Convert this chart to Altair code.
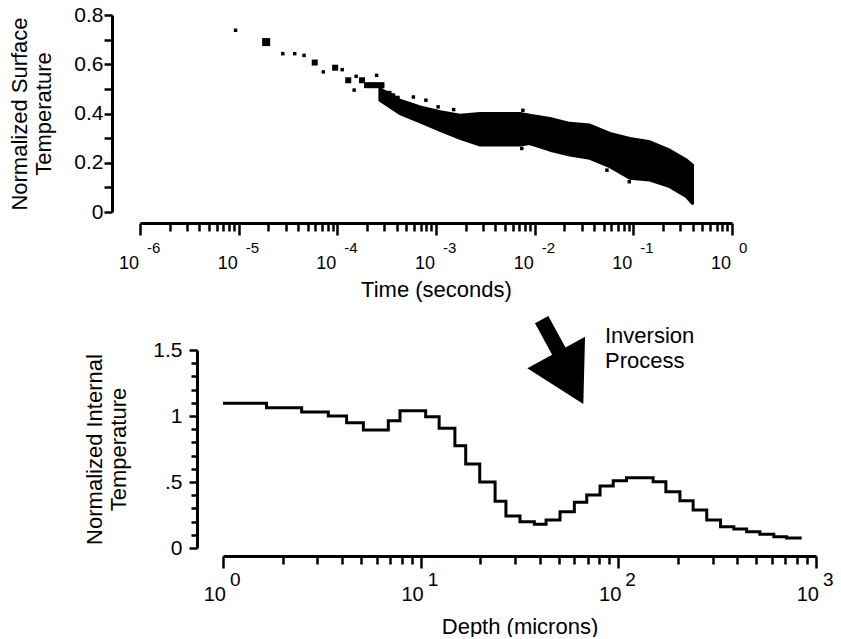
import altair as alt
import pandas as pd

FONT = "Liberation Sans"

# ---------------- top panel: surface temperature vs time ----------------
# isolated readings (time in seconds, normalized surface temperature)
small_t = [9.3e-6, 2.8e-5, 3.7e-5, 4.6e-5, 7.2e-5, 1.12e-4, 1.48e-4, 1.55e-4, 2.5e-4,
           5.9e-4, 7.9e-4, 1.05e-3, 1.51e-3, 7.4e-3, 7.6e-3, 0.054, 0.091]
small_v = [0.738, 0.643, 0.643, 0.636, 0.569, 0.578, 0.495, 0.551, 0.555,
           0.467, 0.454, 0.427, 0.416, 0.258, 0.413, 0.170, 0.123]
medium_t = [5.9e-5, 9.5e-5, 1.29e-4, 1.78e-4, 2.0e-4, 2.24e-4, 2.5e-4, 2.8e-4, 3.3e-4, 3.6e-4, 4.0e-4]
medium_v = [0.607, 0.586, 0.535, 0.535, 0.515, 0.515, 0.515, 0.515, 0.480, 0.470, 0.460]
big_t = [1.9e-5]
big_v = [0.690]
# dense cloud of readings: lower / upper envelope
band_t = [2.7e-4, 4.3e-4, 6.9e-4, 1.1e-3, 1.75e-3, 2.8e-3, 4.4e-3, 7.1e-3, 8.9e-3, 0.0143,
          0.0227, 0.0362, 0.0578, 0.0922, 0.147, 0.234, 0.346, 0.398]
band_hi = [0.501, 0.454, 0.427, 0.407, 0.393, 0.400, 0.400, 0.400, 0.393, 0.380,
           0.360, 0.353, 0.319, 0.299, 0.285, 0.251, 0.211, 0.190]
band_lo = [0.454, 0.400, 0.366, 0.332, 0.299, 0.272, 0.272, 0.272, 0.278, 0.251,
           0.231, 0.218, 0.184, 0.137, 0.130, 0.103, 0.062, 0.035]

top_decades = [-6, -5, -4, -3, -2, -1, 0]
top_y_ticks = [0, 0.1, 0.2, 0.3, 0.4, 0.5, 0.6, 0.7, 0.8]
top_y_label_values = [0, 0.2, 0.4, 0.6, 0.8]
top_y_label_text = ["0", "0.2", "0.4", "0.6", "0.8"]

# ---------------- bottom panel: internal temperature vs depth ----------------
depth_edges = [1.0, 1.66, 2.50, 3.41, 4.22, 5.13, 6.86, 7.86, 10.6, 12.4, 14.9, 16.9, 19.9,
               23.8, 27.0, 31.8, 37.6, 43.1, 50.7, 59.9, 69.2, 80.8, 94.2, 110, 150, 174,
               205, 239, 280, 329, 384, 446, 520, 612, 710, 846]
internal_temp = [1.096, 1.063, 1.030, 1.000, 0.949, 0.894, 0.964, 1.040, 0.995, 0.907,
                 0.775, 0.636, 0.500, 0.354, 0.242, 0.199, 0.180, 0.212, 0.275, 0.346,
                 0.402, 0.470, 0.510, 0.533, 0.502, 0.427, 0.358, 0.288, 0.212, 0.161,
                 0.144, 0.123, 0.104, 0.086, 0.076]
bot_decades = [0, 1, 2, 3]
bot_y_ticks = [round(0.1 * i, 1) for i in range(16)]
bot_y_label_values = [0, 0.5, 1.0, 1.5]
bot_y_label_text = ["0", ".5", "1", "1.5"]

arrow_depth = [48.5]
arrow_val = [1.424]
note_depth = [85.6, 85.6]
note_val = [1.553, 1.364]
note_text = ["Inversion", "Process"]

# ---------------- helpers ----------------
DEC = "abs(log(datum.value)/LN10 - round(log(datum.value)/LN10)) < 0.001"


def label_expr(values, texts):
    expr = "''"
    for v, t in reversed(list(zip(values, texts))):
        expr = f"abs(datum.value - {v}) < 1e-6 ? '{t}' : ({expr})"
    return expr


def log_ticks(decades):
    vals = []
    for e in decades[:-1]:
        for m in range(1, 10):
            vals.append(m * 10.0 ** e)
    vals.append(10.0 ** decades[-1])
    return vals


W1, H1 = 592, 197
W2, H2 = 676, 198
X2_RANGE = [83, 676]

common_axis = dict(grid=False, domainColor="black", tickColor="black", labelColor="black",
                   titleColor="black", domainWidth=3, tickWidth=2.5, labelFont=FONT,
                   titleFont=FONT, titleFontWeight="normal", labelFontWeight="normal")

ax_top_x = alt.Axis(values=log_ticks(top_decades), labels=False, offset=11,
                    tickSize={"condition": {"test": DEC, "value": 12}, "value": 8},
                    title="Time (seconds)", titleFontSize=22, titleY=73,
                    titleBaseline="alphabetic", **common_axis)
ax_top_y = alt.Axis(values=top_y_ticks, labelExpr=label_expr(top_y_label_values, top_y_label_text),
                    offset=28, tickSize=8, labelPadding=1, labelFontSize=21,
                    title=["Normalized Surface", "Temperature"], titleFontSize=22,
                    titleLineHeight=24, titleX=-86, titleBaseline="alphabetic", **common_axis)

x_top = alt.X("t:Q", scale=alt.Scale(type="log", domain=[1e-6, 1]), axis=ax_top_x)


def y_top(field):
    return alt.Y(f"{field}:Q", scale=alt.Scale(domain=[0, 0.8]), axis=ax_top_y)


band_df = pd.DataFrame({"t": band_t, "lo": band_lo, "hi": band_hi})
small_df = pd.DataFrame({"t": small_t, "v": small_v})
medium_df = pd.DataFrame({"t": medium_t, "v": medium_v})
big_df = pd.DataFrame({"t": big_t, "v": big_v})
top_lab_df = pd.DataFrame({"t": [10.0 ** e for e in top_decades],
                           "base": ["10"] * len(top_decades),
                           "exp": [str(e) for e in top_decades]})

band = alt.Chart(band_df).mark_area(color="black", opacity=1, stroke="black", strokeWidth=3,
                                    strokeJoin="round").encode(
    x=x_top, y=y_top("lo"), y2="hi:Q")
small_pts = alt.Chart(small_df).mark_square(color="black", size=12, opacity=1).encode(x=x_top, y=y_top("v"))
medium_pts = alt.Chart(medium_df).mark_square(color="black", size=36, opacity=1).encode(x=x_top, y=y_top("v"))
big_pts = alt.Chart(big_df).mark_square(color="black", size=64, opacity=1).encode(x=x_top, y=y_top("v"))
top_base = alt.Chart(top_lab_df).mark_text(align="right", baseline="alphabetic", fontSize=18,
                                           font=FONT, dx=-1, color="black").encode(
    x=x_top, y=alt.value(254), text="base:N")
top_exp = alt.Chart(top_lab_df).mark_text(align="left", baseline="alphabetic", fontSize=15,
                                          font=FONT, dx=7, color="black").encode(
    x=x_top, y=alt.value(238), text="exp:N")

top = alt.layer(band, small_pts, medium_pts, big_pts, top_base, top_exp).properties(width=W1, height=H1)

# ---------------- bottom chart ----------------
ax_bot_x = alt.Axis(values=log_ticks(bot_decades), labels=False, offset=8,
                    tickSize={"condition": {"test": DEC, "value": 12}, "value": 8},
                    title="Depth (microns)", titleFontSize=22, titleY=77,
                    titleBaseline="alphabetic", **common_axis)
ax_bot_y = alt.Axis(values=bot_y_ticks, labelExpr=label_expr(bot_y_label_values, bot_y_label_text),
                    offset=-57,
                    tickSize={"condition": {"test": "round(datum.value*10) % 5 == 0", "value": 8}, "value": 6},
                    labelPadding=7, labelFontSize=21,
                    title=["Normalized Internal", "Temperature"], titleFontSize=22,
                    titleLineHeight=24, titleX=-96, titleBaseline="alphabetic", **common_axis)

x_bot = alt.X("d:Q", scale=alt.Scale(type="log", domain=[1, 1000], range=X2_RANGE), axis=ax_bot_x)
y_bot = alt.Y("val:Q", scale=alt.Scale(domain=[0, 1.5]), axis=ax_bot_y)

step_df = pd.DataFrame({"d": depth_edges, "val": internal_temp + [internal_temp[-1]]})
arrow_df = pd.DataFrame({"d": arrow_depth, "val": arrow_val})
note_df = pd.DataFrame({"d": note_depth, "val": note_val, "label": note_text})
bot_lab_df = pd.DataFrame({"d": [10.0 ** e for e in bot_decades],
                           "base": ["10"] * len(bot_decades),
                           "exp": [str(e) for e in bot_decades]})

ARROW = ("M -0.482 -0.834 L -0.180 -1 L 0.211 -0.286 L 0.655 -0.530 "
         "L 0.616 1 L -0.657 0.189 L -0.093 -0.120 Z")

step = alt.Chart(step_df).mark_line(color="black", strokeWidth=3, interpolate="step-after").encode(
    x=x_bot, y=y_bot)
arrow = alt.Chart(arrow_df).mark_point(shape=ARROW, filled=True, size=7744, color="black",
                                       opacity=1, strokeWidth=0).encode(x=x_bot, y=y_bot)
note = alt.Chart(note_df).mark_text(align="left", baseline="alphabetic", fontSize=22, font=FONT,
                                    color="black").encode(x=x_bot, y=y_bot, text="label:N")
bot_base = alt.Chart(bot_lab_df).mark_text(align="right", baseline="alphabetic", fontSize=20,
                                           font=FONT, dx=3, color="black").encode(
    x=x_bot, y=alt.value(251), text="base:N")
bot_exp = alt.Chart(bot_lab_df).mark_text(align="left", baseline="alphabetic", fontSize=19,
                                          font=FONT, dx=7, color="black").encode(
    x=x_bot, y=alt.value(236), text="exp:N")

bottom = alt.layer(step, arrow, note, bot_base, bot_exp).properties(width=W2, height=H2)

chart = alt.vconcat(top, bottom, spacing=138, bounds="flush").properties(
    padding={"left": 8, "top": 4, "right": 5, "bottom": 0},
    background="white",
).configure_view(stroke=None)

chart.save("out.html", embed_options={"renderer": "svg", "actions": False})
